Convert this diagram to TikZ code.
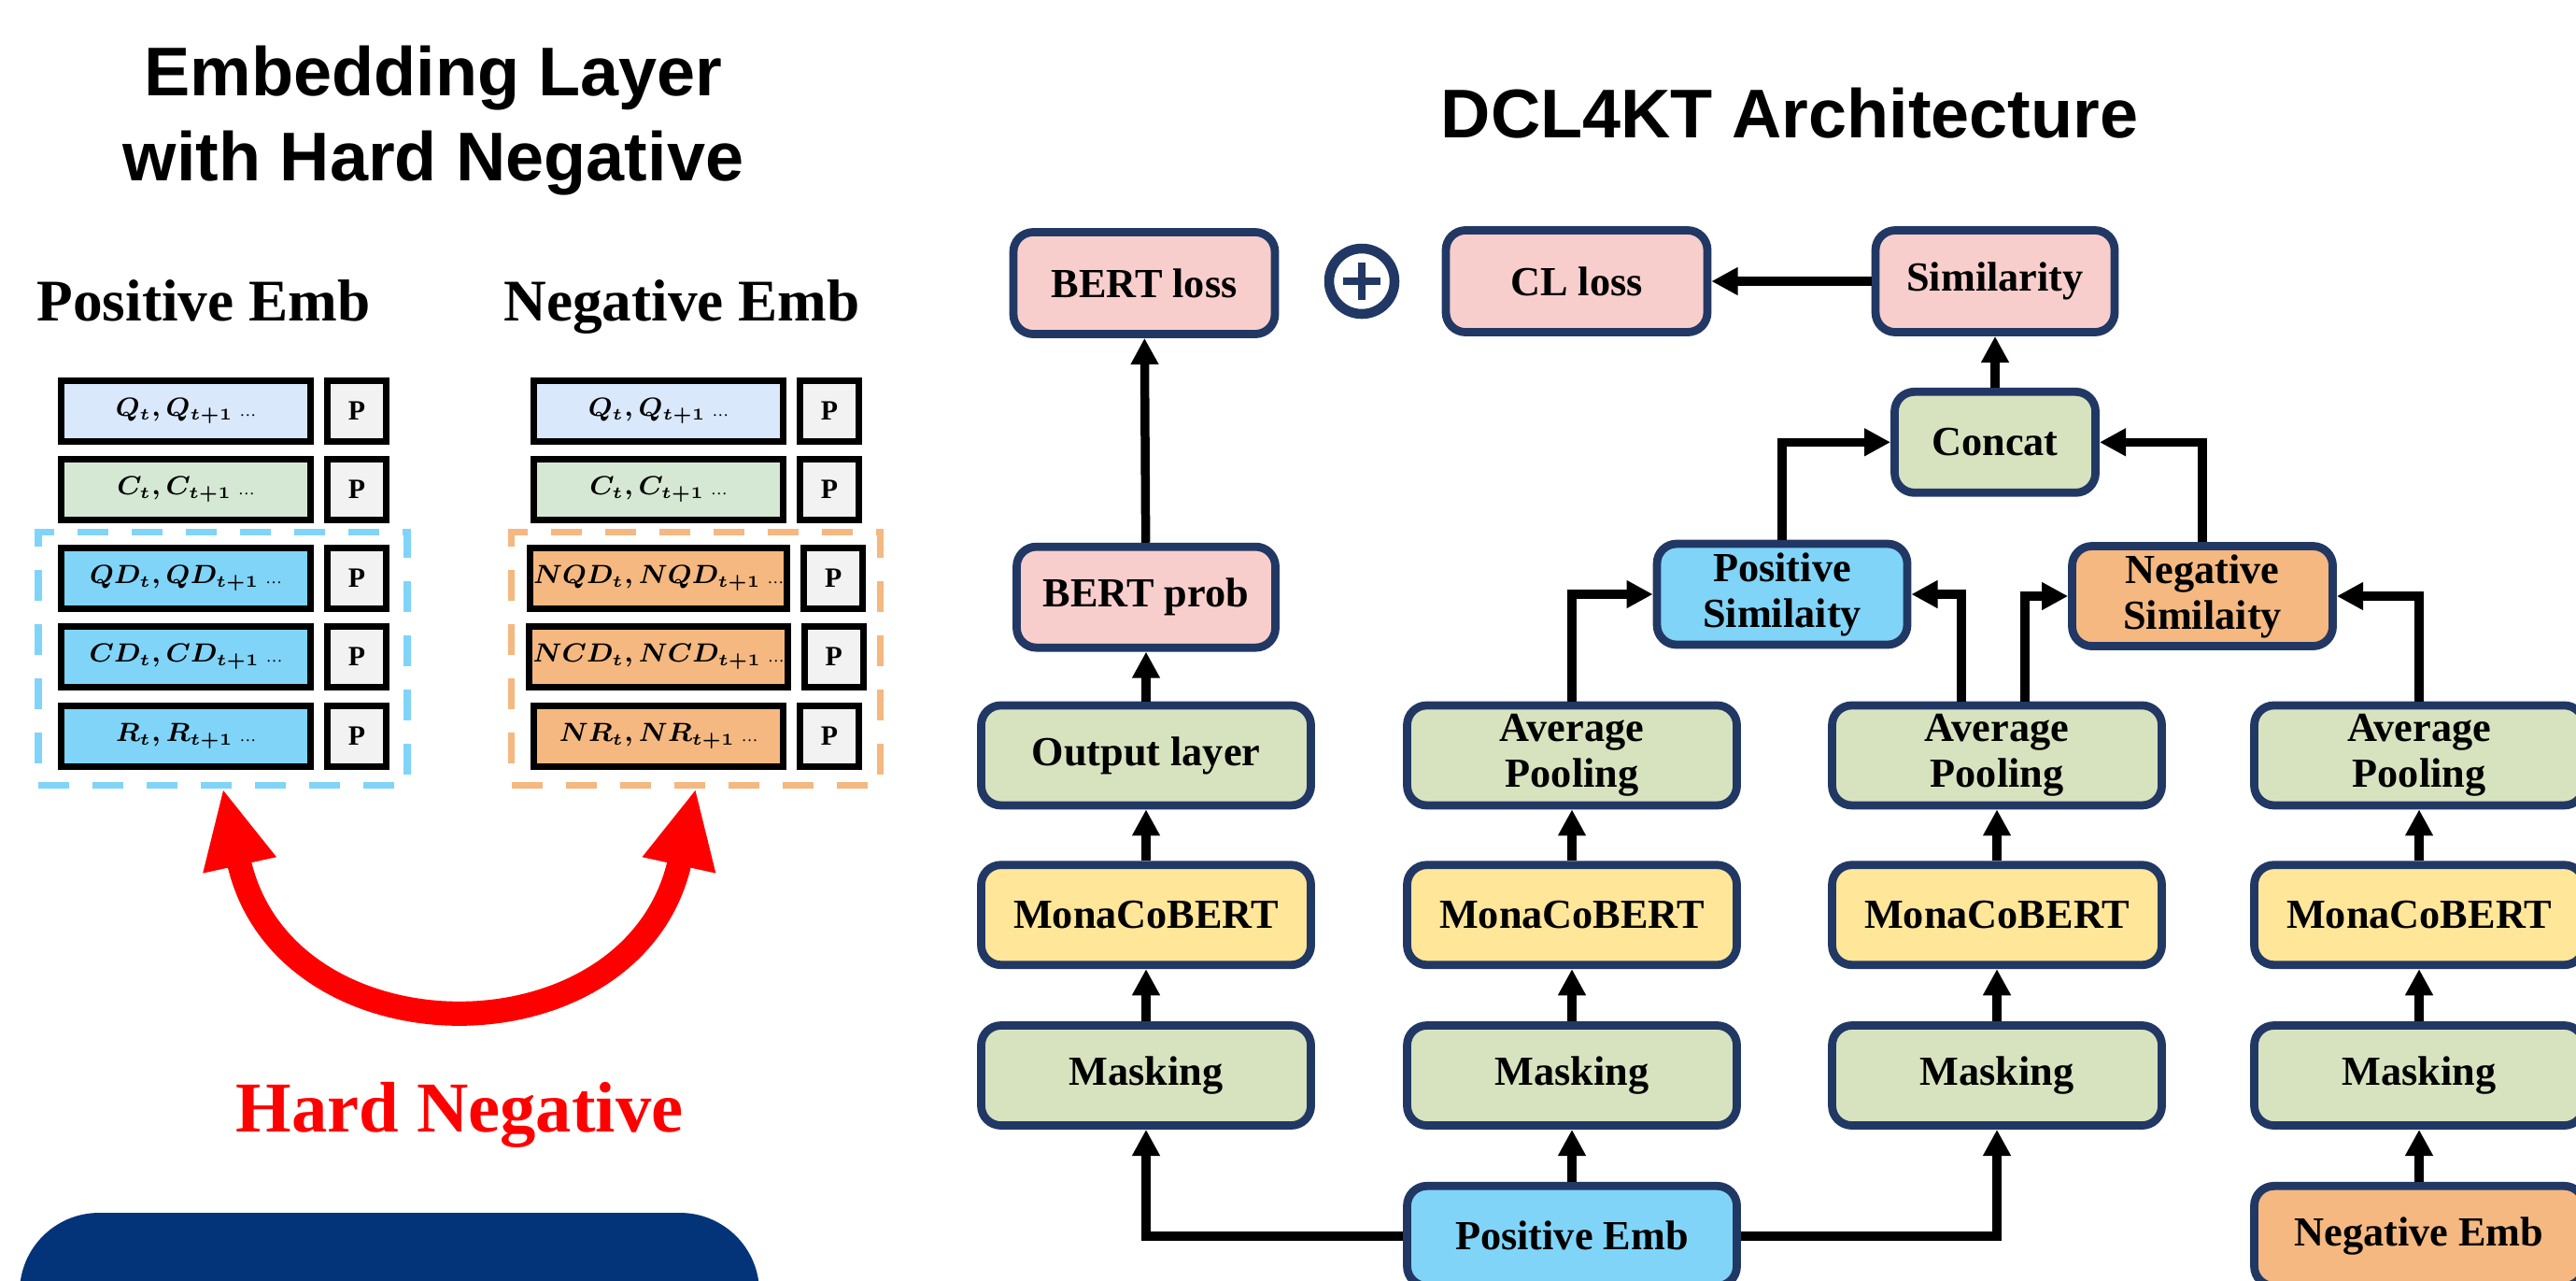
\documentclass[tikz,border=0pt]{standalone}
\usepackage{fontspec}
\setmainfont{Liberation Serif}
\newfontfamily\headfont{Liberation Sans}
\usetikzlibrary{positioning,arrows.meta}

\definecolor{navy}{HTML}{223864}
\definecolor{pinkfill}{HTML}{F8CECC}
\definecolor{greenfill}{HTML}{D7E3BF}
\definecolor{yellowfill}{HTML}{FFE699}
\definecolor{bluefill}{HTML}{80D4F8}
\definecolor{orangefill}{HTML}{F4B880}
\definecolor{qfill}{HTML}{DAE8FC}
\definecolor{cfill}{HTML}{D5E8D4}
\definecolor{pfill}{HTML}{F2F2F2}
\definecolor{darkblue}{HTML}{03347A}

\begin{document}
\begin{tikzpicture}[
    node distance=0.56cm,
    every node/.style={font=\bfseries},
    archbox/.style={draw=navy, line width=2.5pt, rounded corners=6pt, minimum width=3.53cm, minimum height=1.07cm, align=center, inner sep=1pt, font=\fontsize{12.6}{14}\selectfont\bfseries},
    embbox/.style={draw, line width=2pt, minimum width=2.67cm, minimum height=0.65cm, inner xsep=1pt, font=\fontsize{7.6}{9}\selectfont\boldmath, execute at begin node=\boldmath},
    pbox/.style={draw, line width=2pt, fill=pfill, minimum width=0.63cm, minimum height=0.65cm, font=\fontsize{8.5}{9}\selectfont\bfseries},
    grpbox/.style={line width=2pt, dash pattern=on 0.33cm off 0.25cm, minimum width=3.95cm, minimum height=2.71cm},
    arr/.style={line width=2.7pt, -{Triangle[length=8pt,width=8pt]}},
    title/.style={font=\headfont\fontsize{21}{25.9}\selectfont\bfseries, align=center}
]
\useasboundingbox (0,0) rectangle (27.58,-13.70);
\clip (0,0) rectangle (27.58,-13.70);

% titles
\node[title] (lefttitle) at (4.64,-1.29) {Embedding Layer\\with Hard Negative};
\node[title, anchor=base] (righttitle) at (19.16,-1.47) {DCL4KT Architecture};

% embedding columns
\node[anchor=base, font=\fontsize{18}{20}\selectfont\bfseries] (poshead) at (2.18,-3.43) {Positive Emb};
\node[anchor=base, font=\fontsize{18}{20}\selectfont\bfseries] (neghead) at (7.30,-3.43) {Negative Emb};

\node[embbox, fill=qfill] (posq) at (1.99,-4.40) {$Q_t, Q_{t+1}$\ {\tiny\ldots}};
\node[embbox, fill=cfill, below=0.12cm of posq] (posc) {$C_t, C_{t+1}$\ {\tiny\ldots}};
\node[embbox, fill=bluefill, below=0.23cm of posc] (posqd) {$QD_t, QD_{t+1}$\ {\tiny\ldots}};
\node[embbox, fill=bluefill, below=0.12cm of posqd] (poscd) {$CD_t, CD_{t+1}$\ {\tiny\ldots}};
\node[embbox, fill=bluefill, below=0.13cm of poscd] (posr) {$R_t, R_{t+1}$\ {\tiny\ldots}};
\node[pbox, right=0.11cm of posq] (posqp) {P};
\node[pbox, right=0.11cm of posc] (poscp) {P};
\node[pbox, right=0.11cm of posqd] (posqdp) {P};
\node[pbox, right=0.11cm of poscd] (poscdp) {P};
\node[pbox, right=0.11cm of posr] (posrp) {P};

\node[embbox, fill=qfill] (negq) at (7.05,-4.40) {$Q_t, Q_{t+1}$\ {\tiny\ldots}};
\node[embbox, fill=cfill, below=0.12cm of negq] (negc) {$C_t, C_{t+1}$\ {\tiny\ldots}};
\node[embbox, fill=orangefill, below=0.23cm of negc] (negqd) {$NQD_t, NQD_{t+1}$\ {\tiny\ldots}};
\node[embbox, fill=orangefill, below=0.12cm of negqd] (negcd) {$NCD_t, NCD_{t+1}$\ {\tiny\ldots}};
\node[embbox, fill=orangefill, below=0.13cm of negcd] (negr) {$NR_t, NR_{t+1}$\ {\tiny\ldots}};
\node[pbox, right=0.11cm of negq] (negqp) {P};
\node[pbox, right=0.11cm of negc] (negcp) {P};
\node[pbox, right=0.11cm of negqd] (negqdp) {P};
\node[pbox, right=0.11cm of negcd] (negcdp) {P};
\node[pbox, right=0.11cm of negr] (negrp) {P};

% dashed groups
\node[grpbox, draw=bluefill] (posgrp) at (2.385,-7.045) {};
\node[grpbox, draw=orangefill] (neggrp) at (7.45,-7.045) {};

% hard negative
\draw[red, line width=7.4pt, {Triangle[length=24pt,width=21pt]}-{Triangle[length=24pt,width=21pt]}]
    (posgrp.south) .. controls +(0.65,-2.96) and +(-0.65,-2.96) .. (neggrp.south);
\node[anchor=base, red, font=\fontsize{21.8}{24}\selectfont\bfseries] (hardneg) at (4.92,-12.11) {Hard Negative};

\fill[darkblue, rounded corners=0.85cm] (0.21,-12.98) rectangle (8.13,-15.0);

% top row
\node[archbox, fill=pinkfill, minimum width=2.80cm, minimum height=1.09cm] (bertloss) at (12.25,-3.03) {BERT loss};
\node[circle, draw=navy, line width=3pt, minimum size=0.70cm] (plus) at (14.58,-3.01) {};
\draw[navy, line width=2.4pt] ([xshift=-0.2cm]plus.center) -- ([xshift=0.2cm]plus.center);
\draw[navy, line width=2.4pt] ([yshift=-0.2cm]plus.center) -- ([yshift=0.2cm]plus.center);
\node[archbox, fill=pinkfill, minimum width=2.80cm, minimum height=1.09cm] (clloss) at (16.88,-3.01) {CL loss};
\node[archbox, fill=pinkfill, minimum width=2.56cm, minimum height=1.09cm] (similarity) at (21.36,-3.01) {Similarity};
\node[archbox, fill=greenfill, minimum width=2.15cm, minimum height=1.08cm, below=0.55cm of similarity] (concat) {Concat};
\node[archbox, fill=bluefill, minimum width=2.68cm, minimum height=1.08cm] (possim) at (19.08,-6.36) {Positive\\Similaity};
\node[archbox, fill=orangefill, minimum width=2.79cm, minimum height=1.07cm] (negsim) at (23.58,-6.38) {Negative\\Similaity};

% column 1
\node[archbox, fill=greenfill] (mask1) at (12.27,-11.51) {Masking};
\node[archbox, fill=yellowfill, above=of mask1] (mona1) {MonaCoBERT};
\node[archbox, fill=greenfill, above=0.55cm of mona1] (output) {Output layer};
\node[archbox, fill=pinkfill, minimum width=2.77cm, minimum height=1.08cm, above=0.53cm of output] (bertprob) {BERT prob};

% column 2
\node[archbox, fill=greenfill] (mask2) at (16.83,-11.51) {Masking};
\node[archbox, fill=yellowfill, above=of mask2] (mona2) {MonaCoBERT};
\node[archbox, fill=greenfill, above=0.55cm of mona2] (pool2) {Average\\Pooling};
\node[archbox, fill=bluefill, below=of mask2] (posemb) {Positive Emb};

% column 3
\node[archbox, fill=greenfill] (mask3) at (21.38,-11.51) {Masking};
\node[archbox, fill=yellowfill, above=of mask3] (mona3) {MonaCoBERT};
\node[archbox, fill=greenfill, above=0.55cm of mona3] (pool3) {Average\\Pooling};

% column 4
\node[archbox, fill=greenfill] (mask4) at (25.90,-11.51) {Masking};
\node[archbox, fill=yellowfill, above=of mask4] (mona4) {MonaCoBERT};
\node[archbox, fill=greenfill, above=0.55cm of mona4] (pool4) {Average\\Pooling};
\node[archbox, fill=orangefill, below=of mask4] (negemb) {Negative Emb};

% arrows
\draw[arr] (mask1) -- (mona1);
\draw[arr] (mona1) -- (output);
\draw[arr] (output) -- (bertprob);
\draw[arr] (bertprob) -- (bertloss);
\draw[arr] (posemb.west) -| (mask1.south);
\draw[arr] (posemb) -- (mask2);
\draw[arr] (posemb.east) -| (mask3.south);
\draw[arr] (negemb) -- (mask4);
\draw[arr] (mask2) -- (mona2);
\draw[arr] (mona2) -- (pool2);
\draw[arr] (mask3) -- (mona3);
\draw[arr] (mona3) -- (pool3);
\draw[arr] (mask4) -- (mona4);
\draw[arr] (mona4) -- (pool4);
\draw[arr] (pool2.north) |- (possim.west);
\draw[arr] ([xshift=-0.38cm]pool3.north) |- (possim.east);
\draw[arr] ([xshift=0.30cm]pool3.north) |- (negsim.west);
\draw[arr] (pool4.north) |- (negsim.east);
\draw[arr] (possim.north) |- (concat.west);
\draw[arr] (negsim.north) |- (concat.east);
\draw[arr] (concat) -- (similarity);
\draw[arr] (similarity) -- (clloss);

\end{tikzpicture}
\end{document}
